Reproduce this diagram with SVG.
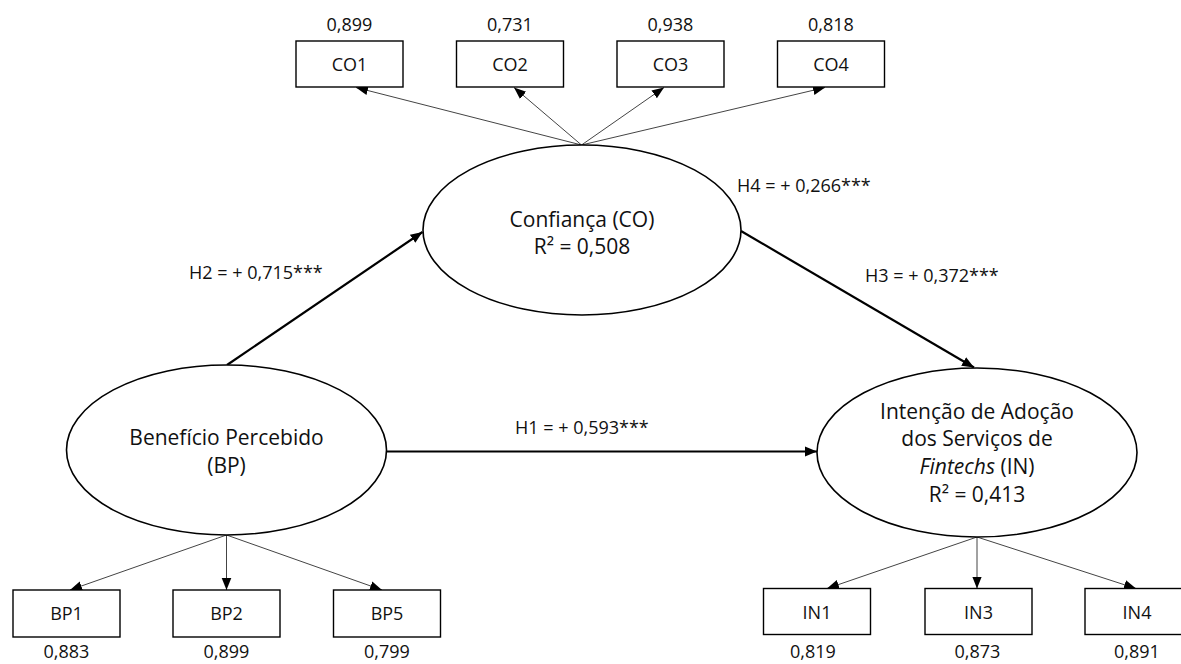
<svg xmlns="http://www.w3.org/2000/svg" width="1181" height="664" viewBox="0 0 1181 664">
<defs>
<style>
.bg{fill:#ffffff}
.lv{fill:#ffffff;stroke:#000;stroke-width:1.6}
.ind{fill:#ffffff;stroke:#000;stroke-width:1.4}
.t{font-family:"Open Sans","Liberation Sans",sans-serif;fill:#111}
.big{font-size:21px;text-anchor:middle}
.sm{font-size:18px;text-anchor:middle}
.hl{font-size:18px;text-anchor:start}
.load{stroke:#444;stroke-width:1;fill:none;marker-end:url(#ah)}
.path{stroke:#000;stroke-width:2.2;fill:none;marker-end:url(#ahb)}
</style>
<marker id="ah" markerUnits="userSpaceOnUse" markerWidth="12" markerHeight="12" viewBox="0 0 10 8" refX="10" refY="4" orient="auto">
<path d="M0,0 L10,4 L0,8 z" fill="#000"/>
</marker>
<marker id="ahb" markerUnits="userSpaceOnUse" markerWidth="12" markerHeight="12" viewBox="0 0 11 9" refX="11" refY="4.5" orient="auto">
<path d="M0,0 L11,4.5 L0,9 z" fill="#000"/>
</marker>
</defs>
<rect class="bg" x="0" y="0" width="1181" height="664"/>

<g id="connectors">
<path class="load" d="M581.5,145 L356,87.5"/>
<path class="load" d="M581.5,145 L514,87.5"/>
<path class="load" d="M581.5,145 L664,87.5"/>
<path class="load" d="M581.5,145 L825,87.5"/>
<path class="load" d="M226.5,535 L70,590"/>
<path class="load" d="M226.5,535 L226.5,590"/>
<path class="load" d="M226.5,535 L382,590"/>
<path class="load" d="M977,537 L827,588.5"/>
<path class="load" d="M977,537 L977,588.5"/>
<path class="load" d="M977,537 L1136,588.5"/>
<path class="path" d="M227,365 L422.5,232"/>
<path class="path" d="M741,231 L974,367.5"/>
<path class="path" d="M386,451.5 L817,451.5"/>
<text class="t hl" x="189" y="279">H2 = + 0,715***</text>
<text class="t hl" x="737" y="192">H4 = + 0,266***</text>
<text class="t hl" x="865" y="282">H3 = + 0,372***</text>
<text class="t hl" x="515" y="434">H1 = + 0,593***</text>
</g>

<g id="CO">
<ellipse class="lv" cx="582" cy="230" rx="159" ry="85"/>
<text class="t big" x="582" y="226.5">Confiança (CO)</text>
<text class="t big" x="582" y="254">R² = 0,508</text>
</g>
<g id="BP">
<ellipse class="lv" cx="226.5" cy="450" rx="160" ry="85"/>
<text class="t big" x="226.5" y="445">Benefício Percebido</text>
<text class="t big" x="226.5" y="472.5">(BP)</text>
</g>
<g id="IN">
<ellipse class="lv" cx="977" cy="452.5" rx="160" ry="84.5"/>
<text class="t big" x="977" y="419">Intenção de Adoção</text>
<text class="t big" x="977" y="446">dos Serviços de</text>
<text class="t big" x="977" y="474"><tspan font-style="italic">Fintechs</tspan> (IN)</text>
<text class="t big" x="977" y="501.5">R² = 0,413</text>
</g>

<g id="CO1"><rect class="ind" x="296" y="41" width="107" height="46"/><text class="t sm" x="349.5" y="70.5">CO1</text><text class="t sm" x="349.5" y="31">0,899</text></g>
<g id="CO2"><rect class="ind" x="456.5" y="41" width="107" height="46"/><text class="t sm" x="510" y="70.5">CO2</text><text class="t sm" x="510" y="31">0,731</text></g>
<g id="CO3"><rect class="ind" x="617" y="41" width="107" height="46"/><text class="t sm" x="670.5" y="70.5">CO3</text><text class="t sm" x="670.5" y="31">0,938</text></g>
<g id="CO4"><rect class="ind" x="777.5" y="41" width="107" height="46"/><text class="t sm" x="831" y="70.5">CO4</text><text class="t sm" x="831" y="31">0,818</text></g>

<g id="BP1"><rect class="ind" x="13" y="590" width="107" height="47"/><text class="t sm" x="66.5" y="620">BP1</text><text class="t sm" x="66.5" y="658">0,883</text></g>
<g id="BP2"><rect class="ind" x="173" y="590" width="107" height="47"/><text class="t sm" x="226.5" y="620">BP2</text><text class="t sm" x="226.5" y="658">0,899</text></g>
<g id="BP5"><rect class="ind" x="333.5" y="590" width="107" height="47"/><text class="t sm" x="387" y="620">BP5</text><text class="t sm" x="387" y="658">0,799</text></g>

<g id="IN1"><rect class="ind" x="763.5" y="588.5" width="107" height="46"/><text class="t sm" x="817" y="619">IN1</text><text class="t sm" x="813" y="658">0,819</text></g>
<g id="IN3"><rect class="ind" x="925" y="588.5" width="107" height="46"/><text class="t sm" x="978.5" y="619">IN3</text><text class="t sm" x="977.5" y="658">0,873</text></g>
<g id="IN4"><rect class="ind" x="1085" y="588.5" width="107" height="46"/><text class="t sm" x="1137" y="619">IN4</text><text class="t sm" x="1137" y="658">0,891</text></g>
</svg>
